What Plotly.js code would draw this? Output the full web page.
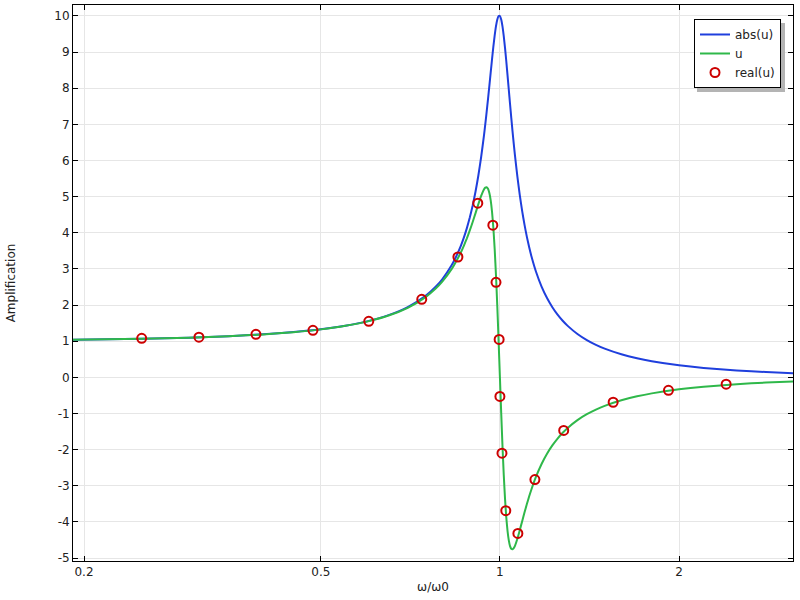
<!DOCTYPE html>
<html>
<head>
<meta charset="utf-8">
<script src="https://cdn.plot.ly/plotly-3.0.1.min.js"></script>
<style>html,body{margin:0;padding:0;background:#fff;}#chart{width:800px;height:600px;}</style>
</head>
<body>
<div id="chart"></div>
<script>
// frequency ratio omega/omega0 for the curves
const freqCurve = [0.191,0.25,0.3,0.35,0.4,0.45,0.5,0.55,0.6,0.65,0.7,0.75,0.78,0.8,0.83,0.84,0.86,0.87,0.88,0.89,0.9,0.91,0.92,0.93,0.94,0.945,0.95,0.955,0.96,0.965,0.97,0.975,0.98,0.985,0.99,0.995,1.0,1.005,1.01,1.015,1.02,1.025,1.03,1.035,1.04,1.045,1.05,1.055,1.06,1.07,1.08,1.09,1.1,1.11,1.12,1.13,1.15,1.175,1.2,1.225,1.25,1.275,1.3,1.35,1.4,1.45,1.5,1.6,1.7,1.8,2.0,2.2,2.5,2.8,3.11];
// abs(u)
const absU = [1.038,1.066,1.098,1.139,1.189,1.252,1.330,1.429,1.556,1.721,1.943,2.253,2.505,2.712,3.106,3.266,3.647,3.873,4.130,4.422,4.757,5.141,5.585,6.097,6.684,7.006,7.346,7.701,8.068,8.439,8.804,9.150,9.461,9.718,9.903,10.0,10.0,9.901,9.711,9.443,9.115,8.747,8.357,7.959,7.565,7.182,6.815,6.468,6.141,5.552,5.041,4.600,4.218,3.887,3.598,3.344,2.921,2.510,2.193,1.940,1.735,1.566,1.424,1.200,1.031,0.899,0.794,0.638,0.527,0.445,0.333,0.260,0.190,0.146,0.115];
// u (real part, solid line)
const reU = [1.038,1.066,1.098,1.138,1.188,1.250,1.327,1.425,1.549,1.710,1.925,2.221,2.456,2.647,3.001,3.141,3.463,3.647,3.847,4.065,4.299,4.544,4.792,5.022,5.200,5.251,5.262,5.218,5.103,4.898,4.581,4.134,3.545,2.812,1.952,0.998,0.0,-0.983,-1.895,-2.695,-3.357,-3.874,-4.253,-4.512,-4.670,-4.746,-4.761,-4.728,-4.662,-4.466,-4.228,-3.980,-3.737,-3.507,-3.293,-3.096,-2.751,-2.399,-2.115,-1.885,-1.694,-1.535,-1.400,-1.184,-1.020,-0.892,-0.789,-0.634,-0.525,-0.444,-0.332,-0.260,-0.190,-0.146,-0.115];
// real(u) sample markers
const freqMarkers = [0.250,0.312,0.389,0.485,0.602,0.739,0.850,0.918,0.973,0.985,0.997,1.000,1.008,1.023,1.072,1.145,1.28,1.55,1.92,2.40];
const reMarkers = [1.08,1.11,1.19,1.30,1.55,2.16,3.33,4.82,4.21,2.63,1.05,-0.53,-2.10,-3.69,-4.32,-2.83,-1.47,-0.69,-0.36,-0.19];
// tick labels
const xTickVals = [0.2,0.5,1,2];
const xTickText = ['0.2','0.5','1','2'];
const yTickVals = [-5,-4,-3,-2,-1,0,1,2,3,4,5,6,7,8,9,10];
const yTickText = ['-5','-4','-3','-2','-1','0','1','2','3','4','5','6','7','8','9','10'];

const fnt = {family:'DejaVu Sans, sans-serif', size:12, color:'#222'};

const traces = [
  {x:freqCurve, y:absU, type:'scatter', mode:'lines', name:'abs(u)', line:{color:'#1f3fdd', width:2, shape:'spline', smoothing:0.5}},
  {x:freqCurve, y:reU, type:'scatter', mode:'lines', name:'u', line:{color:'#2fb84a', width:2, shape:'spline', smoothing:0.5}},
  {x:freqMarkers, y:reMarkers, type:'scatter', mode:'markers', name:'real(u)',
   marker:{symbol:'circle-open', size:9, color:'#cc0000', line:{width:2, color:'#cc0000'}}}
];

const layout = {
  width:800, height:600,
  margin:{l:73, r:7, t:5, b:38.5},
  paper_bgcolor:'#fff', plot_bgcolor:'#fff',
  font:fnt,
  showlegend:true,
  xaxis:{type:'log', range:[-0.7175, 0.4926],
    tickvals:xTickVals, ticktext:xTickText,
    ticks:'inside', ticklen:5, tickcolor:'#000', mirror:'ticks', showline:true, linecolor:'#000', linewidth:1,
    showgrid:true, gridcolor:'#e6e6e6', gridwidth:1, zeroline:false,
    tickfont:fnt, automargin:false,
    title:{text:'ω/ω0', font:fnt, standoff:4}},
  yaxis:{range:[-5.083, 10.304],
    tickvals:yTickVals, ticktext:yTickText,
    ticks:'inside', ticklen:5, tickcolor:'#000', mirror:'ticks', showline:true, linecolor:'#000', linewidth:1,
    showgrid:true, gridcolor:'#e6e6e6', gridwidth:1, zeroline:false,
    tickfont:fnt, automargin:false,
    title:{text:'Amplification', font:fnt, standoff:36}},
  legend:{x:(781-73)/720, xanchor:'right', y:1-(19-5)/556.5, yanchor:'top', bgcolor:'#fff', bordercolor:'#000', borderwidth:1,
    font:fnt, itemwidth:30, tracegroupgap:0},
  shapes:[{type:'rect', xref:'paper', yref:'paper', layer:'above',
    x0:(697-73)/720, x1:(785-73)/720, y0:1-(92-5)/556.5, y1:1-(23-5)/556.5,
    fillcolor:'#b4b4b4', line:{width:0}}]
};

Plotly.newPlot('chart', traces, layout, {displayModeBar:false, staticPlot:true});
</script>
</body>
</html>
